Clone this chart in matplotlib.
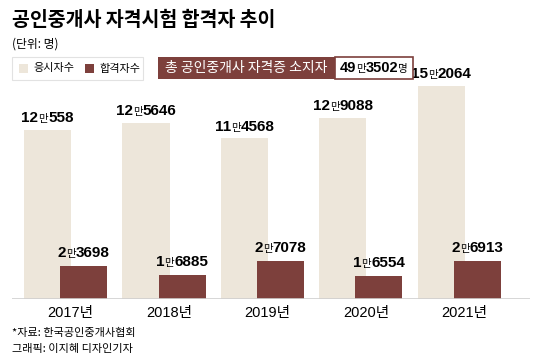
import matplotlib
matplotlib.use("Agg")
import matplotlib.pyplot as plt
from matplotlib.patches import Rectangle
from matplotlib.offsetbox import TextArea, HPacker, AnnotationBbox

# data
years = ["2017년", "2018년", "2019년", "2020년", "2021년"]
applicants = [120558, 125646, 114568, 129088, 152064]
passers = [23698, 16885, 27078, 16554, 26913]
total_holders = 493502

title = "공인중개사 자격시험 합격자 추이"
unit = "(단위: 명)"
legend_labels = ["응시자수", "합격자수"]
box_label = "총 공인중개사 자격증 소지자"
source = "*자료: 한국공인중개사협회"
credit = "그래픽: 이지혜 디자인기자"

BEIGE = "#ede6da"
BROWN = "#7d403c"
KR = ["Noto Sans CJK KR", "DejaVu Sans"]
NUM = ["Liberation Sans", "Noto Sans CJK KR", "DejaVu Sans"]

W, H = 540, 364
fig = plt.figure(figsize=(W / 100, H / 100), dpi=100)


def px_box(x0, y0, x1, y1):
    # pixel box (top-left origin) -> figure fraction
    return [x0 / W, 1 - y1 / H, (x1 - x0) / W, (y1 - y0) / H]


# plot area: baseline at y=299 px, 1.4 px per 1000 people
ax_top, ax_bot = 40, 299
ax = fig.add_axes(px_box(12, ax_top, 530, ax_bot))
ax.set_xlim((12 - 65.5) / 98.5, (530 - 65.5) / 98.5)
ax.set_ylim(0, (ax_bot - ax_top) / 1.4018 * 1000)

xs = list(range(len(years)))
bw = 47 / 98.5
off = 18 / 98.5
ax.bar([x - off for x in xs], applicants, width=bw, color=BEIGE, zorder=1)
ax.bar([x + off for x in xs], passers, width=bw, color=BROWN, zorder=2)
ax.axhline(0, color="#cfcfcf", lw=1.2, zorder=3)


def man_label(v, fs=11, small=7.5, tail=None):
    # "12만558" style: bold digits, small regular 만
    num = dict(family=NUM, weight="bold", size=fs, color="black")
    sm = dict(family=KR, size=small, color="black")
    parts = []
    if v >= 10000:
        parts.append(TextArea(str(v // 10000), textprops=num))
        parts.append(TextArea("만", textprops=sm))
    parts.append(TextArea(str(v % 10000), textprops=num))
    if tail:
        parts.append(TextArea(tail, textprops=sm))
    return HPacker(children=parts, align="baseline", pad=0, sep=0)


for x, a, p in zip(xs, applicants, passers):
    ab = AnnotationBbox(man_label(a), (x - off, a), xycoords="data", xybox=(0, 3.5),
                        boxcoords="offset points", box_alignment=(0.5, 0), frameon=False, pad=0)
    ax.add_artist(ab)
    ab = AnnotationBbox(man_label(p), (x + off, p), xycoords="data", xybox=(0, 4.5),
                        boxcoords="offset points", box_alignment=(0.5, 0), frameon=False, pad=0)
    ax.add_artist(ab)

ax.set_xticks([x + 0.05 for x in xs])
ax.set_xticklabels(years, family=NUM, size=10.5)
ax.tick_params(axis="x", length=0, pad=5)
ax.set_yticks([])
for s in ax.spines.values():
    s.set_visible(False)

# title and unit
fig.text(12 / W, 1 - 20 / H, title, family=KR, weight="heavy", size=14, va="center", ha="left")
fig.text(12 / W, 1 - 44 / H, unit, family=KR, size=8.5, va="center", ha="left")

# legend
fig.patches.append(Rectangle((12 / W, 1 - 80 / H), 131 / W, 23 / H, transform=fig.transFigure,
                             facecolor="white", edgecolor="#e2e2e2", lw=0.8))
fig.patches.append(Rectangle((19 / W, 1 - 73 / H), 9 / W, 9 / H, transform=fig.transFigure,
                             facecolor=BEIGE, edgecolor="none"))
fig.text(33 / W, 1 - 68.5 / H, legend_labels[0], family=KR, size=8, va="center")
fig.patches.append(Rectangle((85 / W, 1 - 73 / H), 9 / W, 9 / H, transform=fig.transFigure,
                             facecolor=BROWN, edgecolor="none"))
fig.text(99 / W, 1 - 68.5 / H, legend_labels[1], family=KR, size=8, va="center")

# total holders box
fig.patches.append(Rectangle((158 / W, 1 - 79 / H), 177 / W, 22 / H, transform=fig.transFigure,
                             facecolor=BROWN, edgecolor="none"))
fig.text(246.5 / W, 1 - 68 / H, box_label, family=KR, size=10, color="white", va="center", ha="center")
fig.patches.append(Rectangle((335 / W, 1 - 79 / H), 78 / W, 22 / H, transform=fig.transFigure,
                             facecolor="white", edgecolor=BROWN, lw=1.2))
tot = man_label(total_holders, fs=10.5, small=7.5, tail="명")
fig.add_artist(AnnotationBbox(tot, (374 / W, 1 - 68 / H), xycoords="figure fraction",
                              box_alignment=(0.5, 0.5), frameon=False, pad=0))

# footer
fig.text(12 / W, 1 - 333 / H, source, family=KR, size=8, va="center")
fig.text(12 / W, 1 - 349 / H, credit, family=KR, size=8, va="center")

fig.savefig("out.png", dpi=100, facecolor="white")
